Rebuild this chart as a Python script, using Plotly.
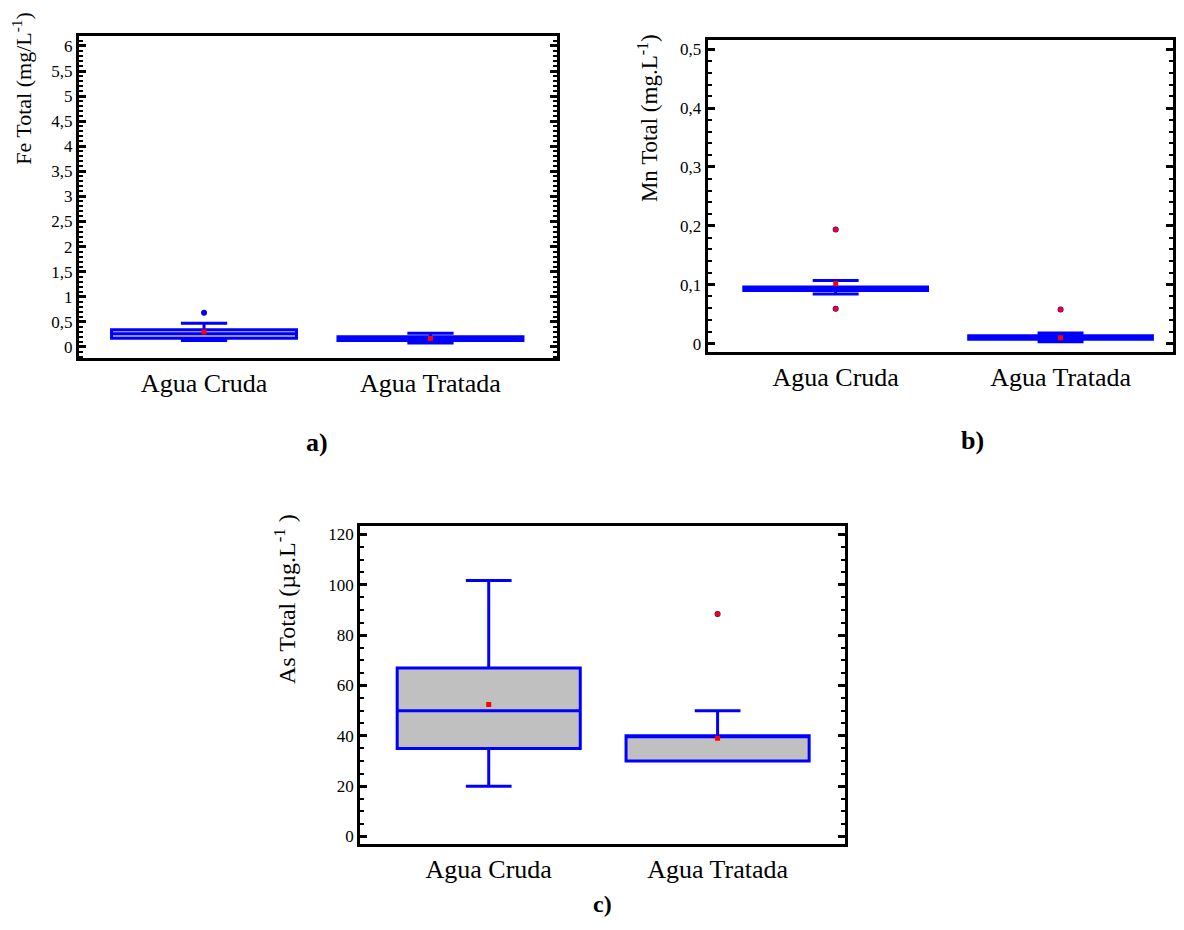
import plotly.graph_objects as go

# ---------------- data ----------------
categories = ["Agua Cruda", "Agua Tratada"]

# Panel a) Fe total (mg/L)
fe_q1 = [0.17, 0.13]
fe_median = [0.26, 0.17]
fe_q3 = [0.34, 0.20]
fe_lower = [0.13, 0.08]
fe_upper = [0.47, 0.27]
fe_mean = [0.30, 0.17]
fe_out_x = ["Agua Cruda"]
fe_out_y = [0.68]

# Panel b) Mn total (mg/L)
mn_q1 = [0.090, 0.0073]
mn_median = [0.0932, 0.0102]
mn_q3 = [0.0963, 0.0132]
mn_lower = [0.0844, 0.003]
mn_upper = [0.107, 0.018]
mn_mean = [0.102, 0.010]
mn_out_x = ["Agua Cruda", "Agua Cruda", "Agua Tratada"]
mn_out_y = [0.194, 0.059, 0.058]

# Panel c) As total (ug/L)
as_q1 = [35, 30]
as_median = [50, 40]
as_q3 = [67, 40]
as_lower = [20, 30]
as_upper = [101.7, 50]
as_mean = [52.5, 39]
as_out_x = ["Agua Tratada"]
as_out_y = [88.4]

fe_ticks = [0, 0.5, 1, 1.5, 2, 2.5, 3, 3.5, 4, 4.5, 5, 5.5, 6]
fe_labels = ["0", "0,5", "1", "1,5", "2", "2,5", "3", "3,5", "4", "4,5", "5", "5,5", "6"]
mn_ticks = [0, 0.1, 0.2, 0.3, 0.4, 0.5]
mn_labels = ["0", "0,1", "0,2", "0,3", "0,4", "0,5"]
as_ticks = [0, 20, 40, 60, 80, 100, 120]
as_labels = ["0", "20", "40", "60", "80", "100", "120"]

# -------------- styling --------------
FONT = "Liberation Serif, Times New Roman, Times, serif"
BLUE = "#0000ff"
RED = "#ff0000"
GREY = "#c0c0c0"

# page body has an 8px margin; the plot area is 1168 x 914
OFF, PW, PH = 8, 1168, 914

def px(x):
    return min(1.0, max(0.0, (x - OFF) / PW))

def py(y):
    return min(1.0, max(0.0, 1 - (y - OFF) / PH))

fig = go.Figure()

def add_panel(n, q1, med, q3, lo, up, mean, ox, oy, red_out, bw):
    xa = "x" if n == 1 else f"x{n}"
    ya = "y" if n == 1 else f"y{n}"
    fig.add_trace(go.Box(
        x=categories, q1=q1, median=med, q3=q3, lowerfence=lo, upperfence=up,
        boxpoints=False, width=bw, whiskerwidth=0.25,
        fillcolor=GREY, line=dict(color=BLUE, width=3),
        xaxis=xa, yaxis=ya, showlegend=False, hoverinfo="skip"))
    if ox:
        fig.add_trace(go.Scatter(
            x=ox, y=oy, mode="markers",
            marker=dict(color=BLUE, size=6, line=dict(width=0)),
            xaxis=xa, yaxis=ya, showlegend=False))
        if red_out:
            fig.add_trace(go.Scatter(
                x=ox, y=oy, mode="markers",
                marker=dict(color=RED, size=5, line=dict(width=0)),
                xaxis=xa, yaxis=ya, showlegend=False))
    fig.add_trace(go.Scatter(
        x=categories, y=mean, mode="markers",
        marker=dict(color=RED, size=5, symbol="square", line=dict(width=0)),
        xaxis=xa, yaxis=ya, showlegend=False))

add_panel(1, fe_q1, fe_median, fe_q3, fe_lower, fe_upper, fe_mean, fe_out_x, fe_out_y, False, 0.817)
add_panel(2, mn_q1, mn_median, mn_q3, mn_lower, mn_upper, mn_mean, mn_out_x, mn_out_y, True, 0.817)
add_panel(3, as_q1, as_median, as_q3, as_lower, as_upper, as_mean, as_out_x, as_out_y, True, 0.80)

def xax(x0, x1, rng, anchor):
    return dict(domain=[px(x0), px(x1)], range=rng, anchor=anchor,
                type="category", showline=True, linecolor="black", linewidth=3,
                mirror=True, ticks="", showgrid=False, zeroline=False,
                tickfont=dict(family=FONT, size=26, color="black"))

def yax(ytop, ybot, rng, minor_dtick, tickvals, ticktext, anchor):
    return dict(domain=[py(ybot), py(ytop)], range=rng, anchor=anchor,
                showline=True, linecolor="black", linewidth=3, mirror="allticks",
                ticks="inside", ticklen=7, tickwidth=3, tickcolor="black",
                tickvals=tickvals, ticktext=ticktext,
                minor=dict(ticks="inside", dtick=minor_dtick, ticklen=4, tickwidth=2,
                           tickcolor="black", showgrid=False),
                showgrid=False, zeroline=False,
                tickfont=dict(family=FONT, size=17, color="black"))

fig.update_layout(
    autosize=True,
    margin=dict(l=0, r=0, t=0, b=0),
    paper_bgcolor="white", plot_bgcolor="white",
    font=dict(family=FONT, color="black"),
    xaxis=xax(79, 558, [-0.553, 1.557], "y"),
    yaxis=yax(36, 358.7, [-0.22, 6.2], 0.1, fe_ticks, fe_labels, "x"),
    xaxis2=xax(709.5, 1184, [-0.569, 1.50], "y2"),
    yaxis2=yax(40, 352.7, [-0.0142, 0.5158], 0.02, mn_ticks, mn_labels, "x2"),
    xaxis3=xax(361, 847, [-0.562, 1.556], "y3"),
    yaxis3=yax(527, 846, [-3.05, 123.45], 5, as_ticks, as_labels, "x3"),
)

def ann(text, x, y, size, angle=0, bold=False):
    fig.add_annotation(
        text=f"<b>{text}</b>" if bold else text,
        x=px(x), y=py(y), xref="paper", yref="paper",
        xanchor="center", yanchor="middle", showarrow=False, textangle=angle,
        font=dict(family=FONT, size=size, color="black"))

ann("Fe Total (mg/L<sup>-1</sup>)", 22, 88, 22, -90)
ann("Mn Total (mg.L<sup>-1</sup>)", 650, 118, 23, -90)
ann("As Total (µg.L<sup>-1</sup> )", 285, 600, 24, -90)
ann("a)", 318, 443, 26, bold=True)
ann("b)", 975, 441, 26, bold=True)
ann("c)", 604, 906, 24, bold=True)

fig.write_html("out.html")
